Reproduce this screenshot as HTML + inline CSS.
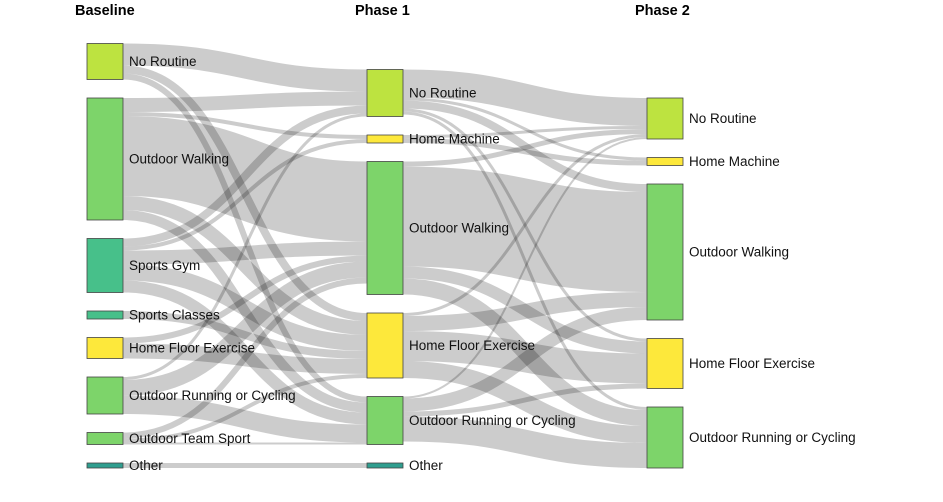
<!DOCTYPE html>
<html><head><meta charset="utf-8">
<style>
html,body{margin:0;padding:0;background:#fff;}
svg{display:block;font-family:"Liberation Sans",sans-serif;}
</style></head>
<body>
<svg id="chart" width="943" height="502"></svg>
<script>
const columns = ["Baseline","Phase 1","Phase 2"];
const nodeNames = [
 ["No Routine","Outdoor Walking","Sports Gym","Sports Classes","Home Floor Exercise","Outdoor Running or Cycling","Outdoor Team Sport","Other"],
 ["No Routine","Home Machine","Outdoor Walking","Home Floor Exercise","Outdoor Running or Cycling","Other"],
 ["No Routine","Home Machine","Outdoor Walking","Home Floor Exercise","Outdoor Running or Cycling"]
];
// links: [sourceIdx, targetIdx, value]
const links01 = [
 [0,0,22],[0,3,8],[0,4,6],
 [1,0,14],[1,1,4],[1,2,80],[1,3,14],[1,4,10],
 [2,0,8],[2,1,4],[2,2,14],[2,3,16],[2,4,12],
 [3,3,8],
 [4,2,6],[4,3,15],
 [5,0,3],[5,2,16],[5,4,18],
 [6,2,6],[6,3,4],[6,4,2],
 [7,5,5]
];
const links12 = [
 [0,0,28],[0,1,3],[0,2,8],[0,3,3],[0,4,3],
 [1,0,3],[1,1,5],
 [2,0,5],[2,2,100],[2,3,12],[2,4,16],
 [3,0,3],[3,2,15],[3,3,30],[3,4,17],
 [4,0,2],[4,2,13],[4,3,5],[4,4,25]
];
const colorMap={"No Routine":"#bde340","Outdoor Walking":"#7dd46a","Sports Gym":"#47c08a","Sports Classes":"#47c08a","Home Floor Exercise":"#fde83b","Outdoor Running or Cycling":"#7dd46a","Outdoor Team Sport":"#7dd46a","Other":"#2f9e8f","Home Machine":"#fde83b"};
const NS="http://www.w3.org/2000/svg";
const svg=document.getElementById('chart');
const colX=[87,367,647], NW=36, GAP=18.5, BOTTOM=468, K=1;
function mk(t,a){const e=document.createElementNS(NS,t);for(const k in a)e.setAttribute(k,a[k]);return e;}
const nodes=nodeNames.map((col,c)=>col.map((n,i)=>({name:n,c:c,i:i,inV:0,outV:0})));
const allLinks=[];
links01.forEach(l=>allLinks.push({s:nodes[0][l[0]],t:nodes[1][l[1]],v:l[2]}));
links12.forEach(l=>allLinks.push({s:nodes[1][l[0]],t:nodes[2][l[1]],v:l[2]}));
allLinks.forEach(l=>{l.s.outV+=l.v;l.t.inV+=l.v;});
nodes.forEach(col=>{
  let total=0;col.forEach(n=>{n.h=Math.max(n.inV,n.outV)*K;total+=n.h;});
  let y=BOTTOM-total-GAP*(col.length-1);
  col.forEach(n=>{n.y0=y;n.y1=y+n.h;y=n.y1+GAP;n.so=n.y0;n.to=n.y0;});
});
nodes.flat().forEach(n=>{
  const outs=allLinks.filter(l=>l.s===n).sort((a,b)=>a.t.y0-b.t.y0);
  outs.forEach(l=>{l.sy=n.so+l.v*K/2;n.so+=l.v*K;});
  const ins=allLinks.filter(l=>l.t===n).sort((a,b)=>a.s.y0-b.s.y0);
  ins.forEach(l=>{l.ty=n.to+l.v*K/2;n.to+=l.v*K;});
});
const gL=mk('g',{});svg.appendChild(gL);
allLinks.forEach(l=>{
  const x0=colX[l.s.c]+NW,x1=colX[l.t.c],xm=(x0+x1)/2;
  const p=mk('path',{d:`M${x0},${l.sy}C${xm},${l.sy} ${xm},${l.ty} ${x1},${l.ty}`,fill:'none',stroke:'#000','stroke-opacity':0.2,'stroke-width':Math.max(1,l.v*K)});
  
  
  gL.appendChild(p);
});
nodes.flat().forEach(n=>{
  const r=mk('rect',{x:colX[n.c],y:n.y0,width:NW,height:n.h,fill:colorMap[n.name],stroke:'#444','stroke-width':0.8});
  
  
  svg.appendChild(r);
  const t=mk('text',{x:colX[n.c]+NW+6,y:(n.y0+n.y1)/2+4.5,'font-size':13.5,fill:'#111'});
  t.textContent=n.name;
  
  
  svg.appendChild(t);
});
columns.forEach((c,i)=>{
  const t=mk('text',{x:colX[i]-12,y:15,'font-size':14.5,'font-weight':'bold',fill:'#000'});
  t.textContent=c;
  
  
  svg.appendChild(t);
});
</script>
</body></html>
